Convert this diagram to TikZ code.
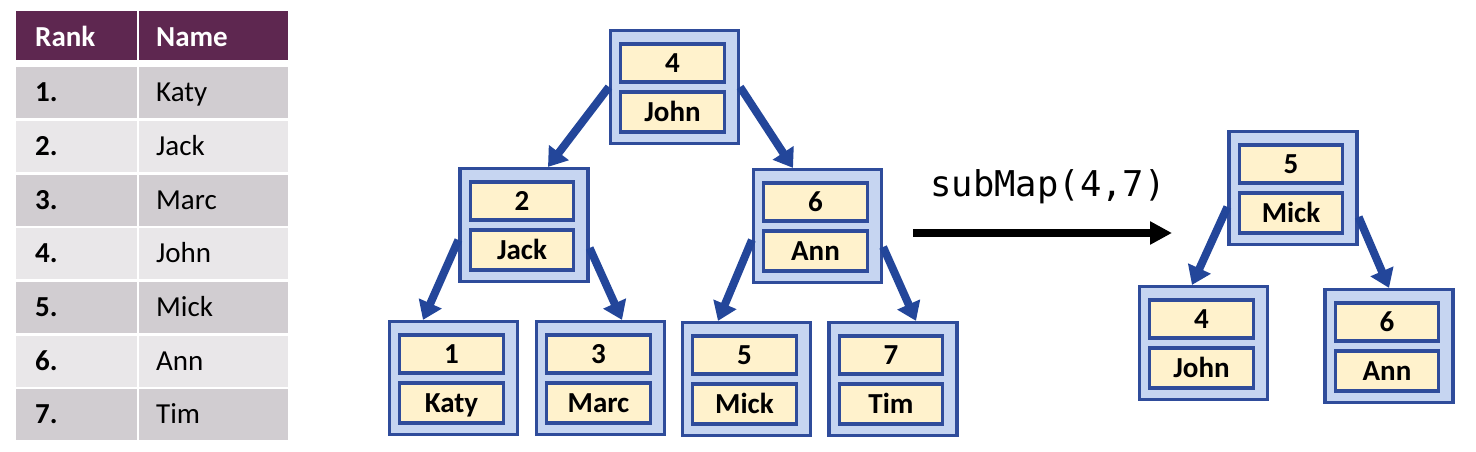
\documentclass[tikz,border=0pt]{standalone}
\usepackage{fontspec}
\setmainfont{Carlito}
\newfontfamily\codefont{DejaVu Sans Mono}
\usetikzlibrary{arrows.meta,calc}
\definecolor{plum}{HTML}{5E2750}
\definecolor{rowdark}{HTML}{D1CDD1}
\definecolor{rowlight}{HTML}{E9E7E9}
\definecolor{boxblue}{HTML}{2F4C9B}
\definecolor{boxfill}{HTML}{C6D5F1}
\definecolor{keyfill}{HTML}{FFF2CC}
\definecolor{arrowblue}{HTML}{23469A}
\tikzset{
  cellbox/.style={inner sep=0, anchor=north west, minimum height=51pt},
  rankcol/.style={cellbox, minimum width=121pt},
  namecol/.style={cellbox, minimum width=149pt},
  celltext/.style={anchor=west, inner sep=0, text height=18.5pt, text depth=0pt},
  outerbox/.style={draw=boxblue, fill=boxfill, line width=3.2pt, minimum width=128pt, minimum height=113pt, inner sep=0},
  innerbox/.style={draw=boxblue, fill=keyfill, line width=3.2pt, minimum width=103.5pt, inner sep=0, text height=18.5pt, text depth=0pt, font=\fontsize{29}{31}\selectfont\bfseries},
  keybox/.style={innerbox, minimum height=38pt},
  valbox/.style={innerbox, minimum height=40pt},
  treearrow/.style={draw=arrowblue, line width=8pt, -{Triangle[length=18pt,width=24pt]}},
}
\newcommand\tnode[5]{%
  \node[outerbox] (#1) at (#2,#3) {};
  \node[keybox] (#1k) at ($(#1)+(-2,-24)$) {#4};
  \node[valbox] (#1v) at ($(#1)+(-2,25)$) {#5};
}
\newcommand\trow[4]{% index, fill, rank, name
  \pgfmathsetmacro\rowtop{67+(#1-1)*53.67}
  \node[rankcol, fill=#2] (ra#1) at (16,\rowtop) {};
  \node[namecol, fill=#2] (na#1) at (139,\rowtop) {};
  \node[celltext] (rt#1) at ($(ra#1.west)+(19,0)$) {\bfseries #3};
  \node[celltext] (nt#1) at ($(na#1.west)+(17,0)$) {#4};
}
\begin{document}
\begin{tikzpicture}[x=1pt, y=-1pt, font=\fontsize{29}{31}\selectfont]
\useasboundingbox (0,0) rectangle (1476,452);
% table
\node[rankcol, fill=plum, minimum height=49pt] (h1) at (16,11) {};
\node[namecol, fill=plum, minimum height=49pt] (h2) at (139,11) {};
\node[celltext, text=white] (ht1) at ($(h1.west)+(19,2)$) {\bfseries Rank};
\node[celltext, text=white] (ht2) at ($(h2.west)+(17,2)$) {\bfseries Name};
\trow{1}{rowdark}{1.}{Katy}
\trow{2}{rowlight}{2.}{Jack}
\trow{3}{rowdark}{3.}{Marc}
\trow{4}{rowlight}{4.}{John}
\trow{5}{rowdark}{5.}{Mick}
\trow{6}{rowlight}{6.}{Ann}
\trow{7}{rowdark}{7.}{Tim}
% left tree
\tnode{n4}{674.5}{87}{4}{John}
\tnode{n2}{524}{225}{2}{Jack}
\tnode{n6}{817.5}{226}{6}{Ann}
\tnode{n1}{453.5}{378}{1}{Katy}
\tnode{n3}{600.5}{378}{3}{Marc}
\tnode{n5}{746.5}{379}{5}{Mick}
\tnode{n7}{893}{379}{7}{Tim}
\draw[treearrow] (n4.west) -- ($(n2.north)+(24,0)$);
\draw[treearrow] (n4.east) -- ($(n6.north)+(-24.5,0)$);
\draw[treearrow] ($(n2.west)+(0,15)$) -- ($(n1.north)+(-30.5,0)$);
\draw[treearrow] ($(n2.east)+(0,23)$) -- ($(n3.north)+(21.5,0)$);
\draw[treearrow] ($(n6.west)+(0,14)$) -- ($(n5.north)+(-28.5,0)$);
\draw[treearrow] ($(n6.east)+(0,21)$) -- ($(n7.north)+(23,0)$);
% operation arrow
\coordinate (opstart) at (913,233);
\coordinate (opend) at (1172,233);
\draw[line width=8pt, -{Triangle[length=22pt,width=22pt]}] (opstart) -- (opend);
\node[anchor=base, inner sep=0, font=\codefont\fontsize{35.5}{38}\selectfont] (oplabel) at (1048,196) {subMap(4,7)};
% right tree
\tnode{r5}{1293}{188}{5}{Mick}
\tnode{r4}{1203.5}{343}{4}{John}
\tnode{r6}{1389}{346}{6}{Ann}
\draw[treearrow] ($(r5.west)+(0,19)$) -- ($(r4.north)+(-11.5,0)$);
\draw[treearrow] ($(r5.east)+(0,29)$) -- ($(r6.north)+(0,0)$);
\end{tikzpicture}
\end{document}
